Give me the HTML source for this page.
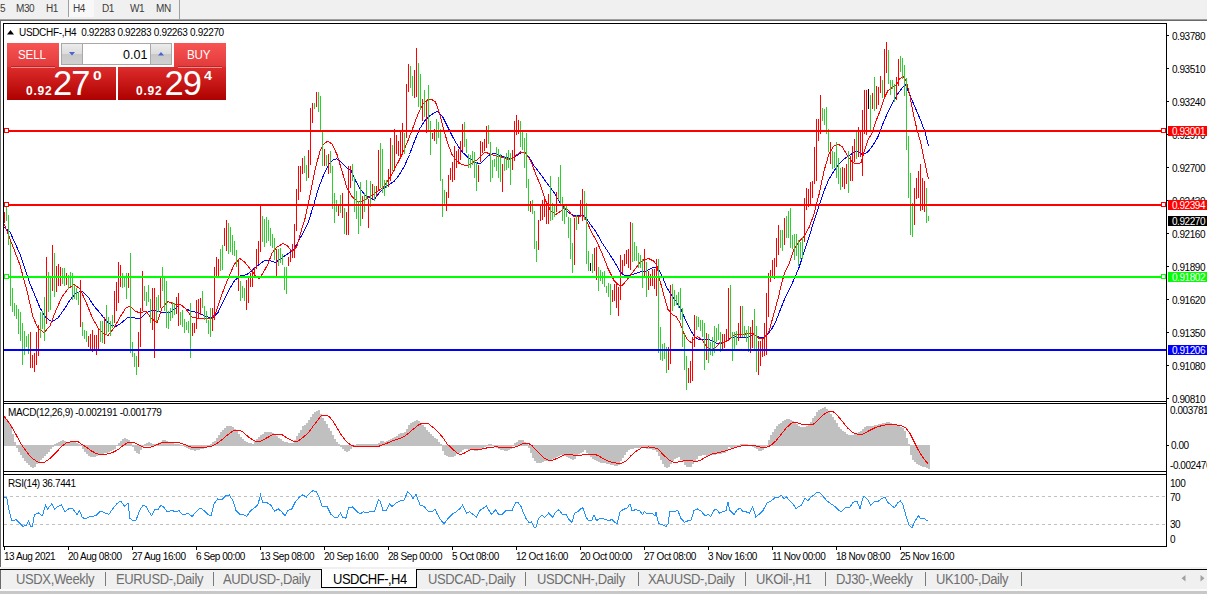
<!DOCTYPE html>
<html><head><meta charset="utf-8"><title>chart</title>
<style>
html,body{margin:0;padding:0;overflow:hidden;}
body{width:1207px;height:594px;position:relative;overflow:hidden;background:#fff;font-family:"Liberation Sans",sans-serif;}
.t,.tb,.pl,.tab{position:absolute;white-space:nowrap;font-size:10px;letter-spacing:-0.45px;line-height:13px;color:#000;}
.tb{color:#3c3c3c;}
.pl{left:1168px;width:39px;height:10px;line-height:10px;padding-left:4px;padding-top:1px;box-sizing:border-box;overflow:hidden}
.tab{font-size:13px;letter-spacing:-0.36px;line-height:18px;color:#6e6e6e;top:571px;transform:scaleY(1.13);transform-origin:0 13.2px}
.sep{position:absolute;top:572px;width:1px;height:14px;background:#7a7a7a}
.abs{position:absolute}
.sbt{color:#fff;font-size:12px;line-height:15px;letter-spacing:-0.2px}
.sm{color:#fff;font-size:12px;font-weight:bold;line-height:13px;letter-spacing:0.2px}
.big{color:#fff;font-size:34.5px;line-height:38px;letter-spacing:-1px}
</style></head><body>
<!-- top toolbar -->
<div class="abs" style="left:0;top:0;width:1207px;height:19px;background:#f0f0f0"></div>
<div class="abs" style="left:69px;top:0;width:25px;height:17px;background:#f8f8f8"></div>
<div class="abs" style="left:68px;top:0;width:1px;height:17px;background:#a0a0a0"></div>
<div class="abs" style="left:179px;top:0;width:1px;height:19px;background:#a0a0a0"></div>
<div class="abs" style="left:0;top:19px;width:1207px;height:1px;background:#a0a0a0"></div>
<div class="abs" style="left:0;top:20px;width:1207px;height:1px;background:#696969"></div>
<div class="abs" style="left:0;top:20px;width:1px;height:547px;background:#696969"></div>
<!-- bottom tab bar -->
<div class="abs" style="left:0;top:567px;width:1207px;height:2px;background:#f0f0f0"></div>
<div class="abs" style="left:0;top:569px;width:1207px;height:1px;background:#000"></div>
<div class="abs" style="left:0;top:570px;width:1207px;height:19px;background:#f0f0f0"></div>
<div class="abs" style="left:0;top:589px;width:1207px;height:2px;background:#fafafa"></div>
<div class="abs" style="left:0;top:591px;width:1207px;height:3px;background:#c8c8c8"></div>
<div class="abs" style="left:0;top:570px;width:1px;height:19px;background:#696969"></div>
<div class="abs" style="left:321px;top:569px;width:96px;height:19px;background:#fff;border:1px solid #000;border-top:none;box-sizing:border-box"></div>
<svg width="1207" height="594" viewBox="0 0 1207 594" style="position:absolute;left:0;top:0">
<g shape-rendering="crispEdges" fill="none" stroke="#000" stroke-width="1">
<path d="M3.5 23V547 M3 23.5H1167 M1166.5 23V547 M3 401.5H1167 M3 403.5H1167 M3 471.5H1167 M3 474.5H1167 M3 546.5H1167"/>
<path d="M1167 35.5h2M1167 68.5h2M1167 101.5h2M1167 134.5h2M1167 167.5h2M1167 200.5h2M1167 233.5h2M1167 266.5h2M1167 299.5h2M1167 332.5h2M1167 365.5h2M1167 398.5h2"/>
<path d="M4.5 547v3M68.5 547v3M132.5 547v3M196.5 547v3M260.5 547v3M324.5 547v3M388.5 547v3M452.5 547v3M516.5 547v3M580.5 547v3M644.5 547v3M708.5 547v3M772.5 547v3M836.5 547v3M900.5 547v3"/>
<path d="M1167 445.5h2"/>
</g>
<path d="M4 496.5H1166 M4 524.5H1166" stroke="#c0c0c0" stroke-width="1" stroke-dasharray="3 3" fill="none" shape-rendering="crispEdges"/>
<polyline points="4.0,227.4 10.0,232.0 20.0,254.0 30.0,283.7 40.0,307.8 46.0,317.8 52.0,321.9 58.0,317.8 64.0,309.6 70.0,300.0 76.0,293.0 82.0,291.0 88.0,296.7 94.0,306.0 100.0,313.0 106.0,320.7 112.0,325.6 116.0,326.3 122.0,322.6 128.0,317.0 134.0,317.8 140.0,318.9 146.0,313.0 152.0,310.0 158.0,311.5 164.0,313.0 170.0,312.6 176.0,307.8 180.0,304.0 186.0,309.0 192.0,311.5 198.0,312.4 204.0,315.5 210.0,317.9 214.0,317.0 218.0,312.4 222.4,303.0 228.5,291.0 234.5,280.6 240.6,276.0 246.7,274.5 251.0,271.5 255.8,267.0 261.8,262.4 266.0,260.0 271.0,261.0 275.5,262.4 280.0,259.4 284.5,256.0 289.0,253.0 293.6,250.0 298.0,242.0 303.5,232.0 308.5,221.8 313.6,205.0 318.6,188.0 323.7,174.7 328.7,164.6 333.8,159.5 337.0,158.9 342.0,163.0 347.0,168.0 350.6,169.6 355.7,181.0 360.7,189.8 365.8,195.6 370.8,198.0 374.0,200.0 379.0,193.0 384.0,188.0 389.0,184.8 394.4,181.0 399.4,174.7 404.5,166.0 409.5,154.5 414.6,141.0 419.6,129.0 424.7,120.8 429.7,115.8 434.8,112.4 438.0,111.4 443.0,117.4 448.0,127.5 453.0,137.6 458.0,146.0 463.0,152.8 468.5,157.8 470.0,159.0 475.0,162.0 480.0,164.0 485.0,159.0 490.0,154.5 495.0,153.0 500.0,155.6 505.0,157.0 510.0,159.0 515.5,156.6 520.5,152.9 524.0,152.0 529.0,157.0 534.0,165.7 539.0,172.0 544.0,179.0 549.0,185.9 554.0,192.6 559.0,201.0 564.0,207.7 569.0,212.8 574.0,216.0 579.4,215.0 584.5,216.0 589.5,223.0 596.0,232.0 602.0,242.7 608.0,251.8 614.0,261.0 620.0,271.5 624.8,276.0 629.4,275.5 634.0,274.0 640.0,272.0 646.0,271.0 650.6,268.5 655.0,267.0 659.0,270.0 662.7,277.6 667.0,288.0 671.8,295.8 676.4,301.8 681.0,309.4 685.5,320.0 690.0,329.0 694.5,336.7 699.0,339.7 703.6,339.0 708.0,339.0 712.7,341.0 717.0,343.6 721.8,344.0 726.4,341.0 731.0,338.0 735.5,336.7 740.0,337.6 744.5,338.0 749.0,336.7 753.6,334.5 758.0,336.7 762.7,338.0 767.0,335.0 771.8,329.0 776.4,320.0 781.0,307.9 785.5,297.0 790.0,288.0 793.7,280.0 798.7,268.5 803.8,253.0 808.8,238.0 813.9,221.0 819.0,206.0 824.0,191.0 829.0,179.0 834.0,171.0 839.0,164.0 844.0,159.0 849.0,155.8 854.0,152.0 857.6,151.7 862.7,154.7 867.7,152.0 872.8,145.7 877.8,137.0 882.9,123.8 888.0,112.0 893.0,101.9 898.0,93.5 903.0,86.7 905.5,85.0 909.8,95.0 914.9,107.0 920.0,118.7 925.0,132.0 928.4,145.6" stroke="#0000ff" stroke-width="1" fill="none" shape-rendering="crispEdges"/>

<polyline points="4.0,223.7 10.0,239.0 20.0,265.0 27.0,291.0 33.0,317.0 38.0,328.0 44.0,332.6 50.0,326.0 56.0,310.0 62.0,297.0 68.0,289.0 74.0,284.4 80.0,289.0 86.0,302.0 92.0,317.0 98.0,328.0 104.0,333.7 108.0,335.5 114.0,328.0 120.0,317.0 126.0,307.8 130.0,306.0 135.0,311.0 140.0,313.0 146.0,311.0 152.0,319.0 157.0,322.6 162.0,308.0 168.0,301.5 174.0,304.0 180.0,304.0 186.0,309.0 192.0,317.0 198.0,318.5 205.8,318.5 211.8,318.5 216.0,312.0 222.0,294.0 228.5,277.6 234.5,264.0 239.7,258.5 245.0,262.4 251.0,270.0 255.8,276.0 259.0,279.0 263.0,273.0 268.0,264.0 272.0,253.0 277.0,247.0 283.0,243.6 287.6,245.8 292.0,251.8 296.7,247.0 300.0,235.0 305.0,218.5 310.0,195.0 315.0,170.0 320.0,151.0 323.7,144.0 328.0,141.0 332.0,144.0 337.0,154.5 342.0,171.0 347.0,188.0 352.0,196.6 357.0,201.0 362.0,201.6 367.4,198.0 372.5,195.0 377.5,191.5 382.6,188.0 387.6,181.0 392.7,173.0 397.7,163.0 402.8,152.8 407.8,141.0 413.0,127.5 418.0,114.0 423.0,104.0 428.0,99.6 431.0,99.0 435.5,102.0 439.8,114.0 444.0,131.0 448.0,144.0 452.0,154.5 456.7,161.0 461.7,164.6 466.8,165.6 471.8,163.0 476.9,160.0 480.0,157.0 485.0,152.0 490.0,154.0 495.0,155.6 500.0,156.6 505.0,158.0 510.0,160.0 515.5,155.6 520.5,152.0 525.6,153.0 530.6,160.6 535.7,174.0 540.7,186.0 545.8,201.0 550.8,211.0 555.9,214.5 561.0,211.0 564.0,207.7 567.6,209.4 572.7,216.0 577.7,217.0 582.8,215.5 586.0,219.5 591.0,231.0 596.0,240.0 602.0,253.0 608.0,268.5 614.0,280.6 618.8,285.0 622.7,285.0 626.4,280.6 631.0,274.5 635.5,268.5 640.0,262.4 644.5,259.4 649.0,258.8 653.6,261.0 657.0,265.5 660.0,280.6 664.0,295.8 668.0,309.4 671.8,314.0 676.4,317.0 680.0,323.0 684.0,333.6 687.6,339.7 691.5,342.7 694.5,338.0 697.6,336.7 702.0,339.7 706.7,347.0 711.0,350.0 715.8,347.0 720.0,342.7 724.8,341.8 729.4,339.7 734.0,335.0 738.5,334.5 743.0,334.5 747.6,333.6 752.0,333.0 755.0,335.0 759.7,339.0 764.0,338.0 768.8,332.0 773.0,317.0 778.0,298.8 782.4,280.6 785.0,272.0 788.6,265.0 793.7,250.0 798.7,241.6 803.8,236.6 808.8,228.0 813.9,214.7 819.0,194.5 824.0,171.0 829.0,154.0 834.0,145.7 838.0,144.0 842.5,147.0 847.5,155.8 852.6,162.5 857.6,164.0 861.0,162.5 864.4,150.7 868.0,140.0 872.0,133.0 876.0,121.0 880.0,111.0 884.0,98.7 888.0,90.6 892.0,87.6 896.0,85.6 900.0,78.5 903.6,76.9 906.7,82.5 909.7,94.6 912.7,110.8 916.8,129.0 920.8,143.0 923.0,154.0 928.4,179.0" stroke="#ff0000" stroke-width="1" fill="none" shape-rendering="crispEdges"/>

<path d="M4.5 212V223M30.5 332V368M32.5 355V368M34.5 353V372M36.5 332V365M38.5 325V356M46.5 257V324M52.5 245V291M56.5 266V292M58.5 264V286M60.5 267V286M66.5 273V285M80.5 280V327M88.5 336V347M90.5 334V351M92.5 330V352M94.5 335V349M96.5 335V355M98.5 329V350M104.5 317V344M114.5 291V323M116.5 282V311M118.5 262V303M120.5 265V287M128.5 273V288M138.5 332V367M140.5 308V347M142.5 271V311M152.5 288V330M154.5 288V358M160.5 278V308M176.5 297V314M178.5 293V326M192.5 323V336M194.5 323V333M196.5 300V329M198.5 299V318M200.5 298V315M212.5 308V331M214.5 267V320M216.5 257V278M218.5 259V277M224.5 228V246M226.5 220V251M238.5 259V291M246.5 280V310M248.5 277V303M250.5 273V287M252.5 269V287M254.5 267V278M256.5 249V269M258.5 241V264M260.5 206V252M276.5 249V278M288.5 257V266M290.5 253V262M292.5 244V258M294.5 224V258M296.5 189V231M298.5 166V200M300.5 166V192M302.5 158V174M308.5 150V178M310.5 108V165M312.5 103V123M316.5 92V107M324.5 149V166M328.5 154V174M338.5 204V216M342.5 193V218M346.5 212V235M348.5 166V235M350.5 166V188M362.5 196V219M368.5 199V228M372.5 184V199M376.5 186V197M378.5 150V191M388.5 169V187M390.5 138V181M394.5 129V171M396.5 135V154M398.5 141V156M400.5 132V156M402.5 123V153M406.5 84V138M408.5 64V92M414.5 70V98M416.5 48V97M422.5 99V121M426.5 101V133M432.5 133V139M434.5 129V141M446.5 192V211M448.5 175V198M450.5 168V180M452.5 162V182M454.5 146V180M456.5 151V168M458.5 149V164M460.5 141V160M462.5 124V151M478.5 165V182M480.5 141V162M482.5 142V153M484.5 139V151M486.5 126V148M502.5 164V192M512.5 150V170M514.5 121V161M516.5 115V135M518.5 120V134M530.5 201V212M538.5 220V250M540.5 206V221M542.5 200V220M544.5 197V217M546.5 204V224M548.5 194V224M556.5 192V212M574.5 218V265M578.5 217V224M580.5 200V217M582.5 189V221M594.5 248V271M596.5 247V280M612.5 290V302M614.5 284V301M616.5 284V308M618.5 287V316M620.5 255V300M622.5 260V273M624.5 254V266M626.5 250V264M628.5 249V268M630.5 222V270M644.5 249V278M648.5 271V290M650.5 274V286M652.5 269V286M654.5 269V289M656.5 259V296M668.5 347V370M670.5 285V364M688.5 368V383M690.5 361V383M692.5 337V381M694.5 315V347M706.5 333V360M722.5 334V351M724.5 334V348M726.5 329V342M728.5 288V341M738.5 323V341M740.5 306V337M750.5 327V353M752.5 320V348M758.5 341V375M760.5 341V366M762.5 338V357M764.5 323V356M766.5 293V355M768.5 273V317M770.5 270V282M772.5 260V277M774.5 258V279M776.5 238V267M778.5 225V255M784.5 218V245M804.5 198V242M806.5 188V210M808.5 189V207M810.5 182V206M812.5 181V198M814.5 147V184M816.5 119V181M818.5 119V141M820.5 95V134M830.5 142V164M842.5 167V187M844.5 168V189M846.5 164V184M850.5 156V181M852.5 146V181M854.5 139V162M858.5 127V157M860.5 130V157M862.5 110V176M864.5 90V134M866.5 90V135M872.5 93V109M876.5 86V109M878.5 87V105M880.5 76V93M884.5 49V98M886.5 42V73M896.5 77V100M898.5 59V86M914.5 188V225M916.5 178V199M918.5 171V198M920.5 164V211M922.5 178V210M924.5 181V212" stroke="#ff0000" stroke-width="1" fill="none" shape-rendering="crispEdges"/>
<path d="M6.5 204V221M8.5 215V245M10.5 242V306M12.5 288V312M14.5 303V316M16.5 305V319M18.5 309V334M20.5 312V341M22.5 323V365M24.5 331V355M26.5 336V347M28.5 334V354M40.5 312V338M42.5 311V329M44.5 297V341M48.5 272V312M50.5 277V310M54.5 253V297M62.5 268V284M64.5 268V286M68.5 275V289M70.5 272V286M72.5 273V300M74.5 285V299M76.5 288V300M78.5 292V305M82.5 322V336M84.5 330V339M86.5 331V342M100.5 321V342M102.5 321V343M106.5 305V335M108.5 317V332M110.5 321V336M112.5 315V328M122.5 273V288M124.5 277V287M126.5 273V299M130.5 253V353M132.5 342V357M134.5 353V367M136.5 356V375M144.5 286V301M146.5 292V306M148.5 285V302M150.5 299V323M156.5 297V322M158.5 295V312M162.5 267V291M164.5 276V311M166.5 281V328M168.5 311V329M170.5 308V321M172.5 302V318M174.5 303V315M180.5 312V325M182.5 310V327M184.5 319V333M186.5 322V330M188.5 321V333M190.5 303V358M202.5 291V308M204.5 306V320M206.5 311V323M208.5 320V334M210.5 308V337M220.5 249V271M222.5 245V270M228.5 223V254M230.5 227V252M232.5 235V255M234.5 241V256M236.5 250V267M240.5 281V301M242.5 286V298M244.5 288V301M262.5 216V242M264.5 219V247M266.5 217V243M268.5 220V241M270.5 228V246M272.5 234V248M274.5 238V260M278.5 249V266M280.5 248V263M282.5 254V265M284.5 267V290M286.5 267V294M304.5 156V173M306.5 165V181M314.5 103V109M318.5 92V112M320.5 96V131M322.5 131V166M326.5 155V166M330.5 151V173M332.5 166V209M334.5 193V223M336.5 200V212M340.5 195V213M344.5 208V234M352.5 164V181M354.5 177V212M356.5 191V219M358.5 201V234M360.5 182V226M364.5 193V212M366.5 180V200M370.5 181V207M374.5 186V201M380.5 143V188M382.5 149V193M384.5 180V196M386.5 180V188M392.5 145V171M404.5 133V154M410.5 66V88M412.5 76V96M418.5 63V107M420.5 74V110M424.5 90V117M428.5 85V130M430.5 121V155M436.5 119V144M438.5 122V138M440.5 129V181M442.5 179V217M444.5 190V204M464.5 122V147M466.5 139V153M468.5 154V168M470.5 155V168M472.5 151V165M474.5 152V178M476.5 162V191M488.5 125V144M490.5 142V182M492.5 160V178M494.5 159V167M496.5 147V171M498.5 149V178M500.5 154V182M504.5 156V171M506.5 153V170M508.5 150V168M510.5 153V185M520.5 121V147M522.5 132V150M524.5 138V168M526.5 133V188M528.5 179V211M532.5 200V214M534.5 211V249M536.5 241V262M550.5 176V221M552.5 203V220M554.5 204V217M558.5 177V200M560.5 165V204M562.5 197V221M564.5 206V224M566.5 204V217M568.5 217V238M570.5 218V259M572.5 243V273M576.5 215V230M584.5 191V220M586.5 203V264M588.5 251V271M592.5 254V273M598.5 267V291M600.5 270V281M602.5 272V284M604.5 271V287M606.5 286V293M608.5 283V297M610.5 284V315M632.5 223V262M634.5 242V261M636.5 246V261M638.5 253V268M640.5 255V268M642.5 259V288M646.5 262V297M658.5 259V353M660.5 327V360M662.5 344V361M664.5 343V359M666.5 347V373M672.5 284V311M674.5 290V306M676.5 295V305M678.5 292V308M680.5 288V320M682.5 308V347M684.5 334V370M686.5 356V390M696.5 316V330M698.5 317V327M700.5 320V331M702.5 320V337M704.5 323V370M708.5 334V363M710.5 342V355M712.5 337V356M714.5 326V353M716.5 328V342M718.5 324V340M720.5 332V352M730.5 285V338M732.5 332V361M734.5 332V349M736.5 331V345M742.5 306V337M744.5 326V337M746.5 330V342M748.5 326V352M754.5 309V350M756.5 326V372M780.5 230V248M782.5 230V251M786.5 216V238M788.5 211V238M790.5 208V248M792.5 235V249M794.5 234V260M796.5 234V256M798.5 240V266M800.5 242V259M802.5 237V259M822.5 108V121M824.5 109V125M826.5 107V134M828.5 129V152M832.5 151V169M834.5 152V168M836.5 142V178M838.5 158V184M840.5 168V190M848.5 151V193M856.5 130V159M870.5 95V131M874.5 77V111M882.5 80V98M888.5 50V84M890.5 80V95M892.5 80V89M894.5 84V102M900.5 56V72M902.5 58V79M904.5 65V96M906.5 78V150M908.5 136V198M910.5 173V235M912.5 203V237M926.5 188V223M928.5 216V221" stroke="#32cd32" stroke-width="1" fill="none" shape-rendering="crispEdges"/>
<path d="M590.5 263V271M868.5 89V109" stroke="#000000" stroke-width="1" fill="none" shape-rendering="crispEdges"/>

<rect x="4" y="130" width="1162" height="2" fill="#ff0000" shape-rendering="crispEdges"/><rect x="4.5" y="128.5" width="4" height="4" fill="#fff" stroke="#ff0000" stroke-width="1" shape-rendering="crispEdges"/><rect x="1161.5" y="128.5" width="4" height="4" fill="#fff" stroke="#ff0000" stroke-width="1" shape-rendering="crispEdges"/>
<rect x="4" y="204" width="1162" height="2" fill="#ff0000" shape-rendering="crispEdges"/><rect x="4.5" y="202.5" width="4" height="4" fill="#fff" stroke="#ff0000" stroke-width="1" shape-rendering="crispEdges"/><rect x="1161.5" y="202.5" width="4" height="4" fill="#fff" stroke="#ff0000" stroke-width="1" shape-rendering="crispEdges"/>
<rect x="4" y="276" width="1162" height="2" fill="#00ff00" shape-rendering="crispEdges"/><rect x="4.5" y="274.5" width="4" height="4" fill="#fff" stroke="#00ff00" stroke-width="1" shape-rendering="crispEdges"/><rect x="1161.5" y="274.5" width="4" height="4" fill="#fff" stroke="#00ff00" stroke-width="1" shape-rendering="crispEdges"/>
<rect x="4" y="349" width="1162" height="2" fill="#0000ff" shape-rendering="crispEdges"/>
<path d="M4 416h2V446h-2zM6 419h2V446h-2zM8 422h2V446h-2zM10 425h2V446h-2zM12 434h2V446h-2zM14 442h2V446h-2zM16 445h2V448h-2zM18 445h2V452h-2zM20 445h2V455h-2zM22 445h2V458h-2zM24 445h2V461h-2zM26 445h2V463h-2zM28 445h2V465h-2zM30 445h2V467h-2zM32 445h2V468h-2zM34 445h2V467h-2zM36 445h2V464h-2zM38 445h2V462h-2zM40 445h2V460h-2zM42 445h2V458h-2zM44 445h2V456h-2zM46 445h2V454h-2zM48 445h2V452h-2zM50 445h2V449h-2zM52 445h2V447h-2zM54 444h2V446h-2zM56 443h2V446h-2zM58 442h2V446h-2zM60 441h2V446h-2zM62 440h2V446h-2zM64 441h2V446h-2zM66 442h2V446h-2zM68 442h2V446h-2zM70 441h2V446h-2zM72 441h2V446h-2zM74 442h2V446h-2zM76 443h2V446h-2zM78 444h2V446h-2zM80 445h2v1h-2zM82 445h2V449h-2zM84 445h2V452h-2zM86 445h2V454h-2zM88 445h2V456h-2zM90 445h2V457h-2zM92 445h2V457h-2zM94 445h2V457h-2zM96 445h2V456h-2zM98 445h2V455h-2zM100 445h2V454h-2zM102 445h2V454h-2zM104 445h2V453h-2zM106 445h2V453h-2zM108 445h2V452h-2zM110 445h2V451h-2zM112 445h2V450h-2zM114 445h2V449h-2zM116 445h2v1h-2zM118 443h2V446h-2zM120 441h2V446h-2zM122 439h2V446h-2zM124 438h2V446h-2zM126 439h2V446h-2zM128 440h2V446h-2zM130 443h2V446h-2zM132 445h2V447h-2zM134 445h2V451h-2zM136 445h2V453h-2zM138 445h2V454h-2zM140 445h2V450h-2zM142 445h2V447h-2zM144 444h2V446h-2zM146 443h2V446h-2zM148 442h2V446h-2zM150 443h2V446h-2zM152 444h2V446h-2zM154 444h2V446h-2zM156 444h2V446h-2zM158 443h2V446h-2zM160 442h2V446h-2zM162 440h2V446h-2zM164 440h2V446h-2zM166 441h2V446h-2zM168 442h2V446h-2zM170 443h2V446h-2zM172 443h2V446h-2zM174 444h2V446h-2zM176 444h2V446h-2zM178 444h2V446h-2zM180 445h2v1h-2zM182 445h2v1h-2zM184 445h2V447h-2zM186 445h2V448h-2zM188 445h2V449h-2zM190 445h2V450h-2zM192 445h2V450h-2zM194 445h2V451h-2zM196 445h2V450h-2zM198 445h2V450h-2zM200 445h2V449h-2zM202 445h2V449h-2zM204 445h2V448h-2zM206 445h2V447h-2zM208 445h2v1h-2zM210 444h2V446h-2zM212 442h2V446h-2zM214 441h2V446h-2zM216 438h2V446h-2zM218 435h2V446h-2zM220 432h2V446h-2zM222 430h2V446h-2zM224 428h2V446h-2zM226 426h2V446h-2zM228 426h2V446h-2zM230 426h2V446h-2zM232 427h2V446h-2zM234 429h2V446h-2zM236 431h2V446h-2zM238 434h2V446h-2zM240 437h2V446h-2zM242 439h2V446h-2zM244 441h2V446h-2zM246 442h2V446h-2zM248 443h2V446h-2zM250 443h2V446h-2zM252 444h2V446h-2zM254 441h2V446h-2zM256 439h2V446h-2zM258 437h2V446h-2zM260 435h2V446h-2zM262 434h2V446h-2zM264 432h2V446h-2zM266 432h2V446h-2zM268 432h2V446h-2zM270 432h2V446h-2zM272 433h2V446h-2zM274 435h2V446h-2zM276 436h2V446h-2zM278 438h2V446h-2zM280 439h2V446h-2zM282 441h2V446h-2zM284 442h2V446h-2zM286 442h2V446h-2zM288 443h2V446h-2zM290 443h2V446h-2zM292 443h2V446h-2zM294 440h2V446h-2zM296 436h2V446h-2zM298 433h2V446h-2zM300 430h2V446h-2zM302 426h2V446h-2zM304 425h2V446h-2zM306 423h2V446h-2zM308 420h2V446h-2zM310 417h2V446h-2zM312 414h2V446h-2zM314 412h2V446h-2zM316 411h2V446h-2zM318 410h2V446h-2zM320 414h2V446h-2zM322 418h2V446h-2zM324 421h2V446h-2zM326 424h2V446h-2zM328 428h2V446h-2zM330 431h2V446h-2zM332 435h2V446h-2zM334 439h2V446h-2zM336 442h2V446h-2zM338 444h2V446h-2zM340 445h2V447h-2zM342 445h2V449h-2zM344 445h2V451h-2zM346 445h2V452h-2zM348 445h2V451h-2zM350 445h2V449h-2zM352 445h2V447h-2zM354 445h2v1h-2zM356 444h2V446h-2zM358 444h2V446h-2zM360 444h2V446h-2zM362 444h2V446h-2zM364 444h2V446h-2zM366 444h2V446h-2zM368 444h2V446h-2zM370 444h2V446h-2zM372 444h2V446h-2zM374 444h2V446h-2zM376 444h2V446h-2zM378 443h2V446h-2zM380 441h2V446h-2zM382 441h2V446h-2zM384 442h2V446h-2zM386 441h2V446h-2zM388 440h2V446h-2zM390 439h2V446h-2zM392 438h2V446h-2zM394 437h2V446h-2zM396 436h2V446h-2zM398 434h2V446h-2zM400 433h2V446h-2zM402 433h2V446h-2zM404 432h2V446h-2zM406 429h2V446h-2zM408 425h2V446h-2zM410 423h2V446h-2zM412 422h2V446h-2zM414 421h2V446h-2zM416 420h2V446h-2zM418 421h2V446h-2zM420 423h2V446h-2zM422 425h2V446h-2zM424 427h2V446h-2zM426 430h2V446h-2zM428 432h2V446h-2zM430 434h2V446h-2zM432 436h2V446h-2zM434 438h2V446h-2zM436 439h2V446h-2zM438 442h2V446h-2zM440 444h2V446h-2zM442 445h2V451h-2zM444 445h2V455h-2zM446 445h2V456h-2zM448 445h2V457h-2zM450 445h2V457h-2zM452 445h2V457h-2zM454 445h2V456h-2zM456 445h2V454h-2zM458 445h2V453h-2zM460 445h2V452h-2zM462 445h2V450h-2zM464 445h2V449h-2zM466 445h2V449h-2zM468 445h2V450h-2zM470 445h2V450h-2zM472 445h2V450h-2zM474 445h2V451h-2zM476 445h2V451h-2zM478 445h2V450h-2zM480 445h2V449h-2zM482 445h2V448h-2zM484 445h2V447h-2zM486 445h2v1h-2zM488 444h2V446h-2zM490 444h2V446h-2zM492 445h2v1h-2zM494 445h2V447h-2zM496 445h2V448h-2zM498 445h2V449h-2zM500 445h2V450h-2zM502 445h2V450h-2zM504 445h2V451h-2zM506 445h2V451h-2zM508 445h2V450h-2zM510 445h2V449h-2zM512 445h2v1h-2zM514 443h2V446h-2zM516 442h2V446h-2zM518 440h2V446h-2zM520 440h2V446h-2zM522 440h2V446h-2zM524 442h2V446h-2zM526 444h2V446h-2zM528 445h2V448h-2zM530 445h2V453h-2zM532 445h2V458h-2zM534 445h2V461h-2zM536 445h2V463h-2zM538 445h2V463h-2zM540 445h2V463h-2zM542 445h2V462h-2zM544 445h2V461h-2zM546 445h2V461h-2zM548 445h2V460h-2zM550 445h2V460h-2zM552 445h2V459h-2zM554 445h2V458h-2zM556 445h2V457h-2zM558 445h2V456h-2zM560 445h2V455h-2zM562 445h2V455h-2zM564 445h2V456h-2zM566 445h2V457h-2zM568 445h2V458h-2zM570 445h2V459h-2zM572 445h2V460h-2zM574 445h2V459h-2zM576 445h2V456h-2zM578 445h2V454h-2zM580 445h2V453h-2zM582 445h2V452h-2zM584 445h2V450h-2zM586 445h2V453h-2zM588 445h2V455h-2zM590 445h2V457h-2zM592 445h2V459h-2zM594 445h2V460h-2zM596 445h2V461h-2zM598 445h2V462h-2zM600 445h2V463h-2zM602 445h2V463h-2zM604 445h2V463h-2zM606 445h2V464h-2zM608 445h2V464h-2zM610 445h2V465h-2zM612 445h2V465h-2zM614 445h2V466h-2zM616 445h2V466h-2zM618 445h2V465h-2zM620 445h2V461h-2zM622 445h2V458h-2zM624 445h2V455h-2zM626 445h2V452h-2zM628 445h2V450h-2zM630 445h2V449h-2zM632 445h2V449h-2zM634 445h2V448h-2zM636 445h2V448h-2zM638 445h2V448h-2zM640 445h2V448h-2zM642 445h2V448h-2zM644 445h2V448h-2zM646 445h2V449h-2zM648 445h2V449h-2zM650 445h2V449h-2zM652 445h2V450h-2zM654 445h2V450h-2zM656 445h2V452h-2zM658 445h2V456h-2zM660 445h2V460h-2zM662 445h2V464h-2zM664 445h2V467h-2zM666 445h2V468h-2zM668 445h2V467h-2zM670 445h2V464h-2zM672 445h2V461h-2zM674 445h2V459h-2zM676 445h2V458h-2zM678 445h2V457h-2zM680 445h2V460h-2zM682 445h2V462h-2zM684 445h2V465h-2zM686 445h2V467h-2zM688 445h2V467h-2zM690 445h2V467h-2zM692 445h2V464h-2zM694 445h2V461h-2zM696 445h2V459h-2zM698 445h2V456h-2zM700 445h2V456h-2zM702 445h2V455h-2zM704 445h2V455h-2zM706 445h2V456h-2zM708 445h2V456h-2zM710 445h2V455h-2zM712 445h2V455h-2zM714 445h2V455h-2zM716 445h2V454h-2zM718 445h2V454h-2zM720 445h2V454h-2zM722 445h2V453h-2zM724 445h2V453h-2zM726 445h2V450h-2zM728 445h2V447h-2zM730 445h2V448h-2zM732 445h2V448h-2zM734 445h2V447h-2zM736 445h2V447h-2zM738 445h2v1h-2zM740 444h2V446h-2zM742 444h2V446h-2zM744 444h2V446h-2zM746 444h2V446h-2zM748 445h2v1h-2zM750 445h2v1h-2zM752 445h2V447h-2zM754 445h2V448h-2zM756 445h2V449h-2zM758 445h2V451h-2zM760 445h2V451h-2zM762 445h2V450h-2zM764 445h2V448h-2zM766 445h2v1h-2zM768 440h2V446h-2zM770 435h2V446h-2zM772 432h2V446h-2zM774 429h2V446h-2zM776 426h2V446h-2zM778 424h2V446h-2zM780 423h2V446h-2zM782 421h2V446h-2zM784 420h2V446h-2zM786 419h2V446h-2zM788 419h2V446h-2zM790 420h2V446h-2zM792 421h2V446h-2zM794 422h2V446h-2zM796 424h2V446h-2zM798 426h2V446h-2zM800 427h2V446h-2zM802 427h2V446h-2zM804 427h2V446h-2zM806 426h2V446h-2zM808 424h2V446h-2zM810 422h2V446h-2zM812 418h2V446h-2zM814 416h2V446h-2zM816 412h2V446h-2zM818 410h2V446h-2zM820 409h2V446h-2zM822 408h2V446h-2zM824 407h2V446h-2zM826 409h2V446h-2zM828 411h2V446h-2zM830 414h2V446h-2zM832 417h2V446h-2zM834 420h2V446h-2zM836 423h2V446h-2zM838 427h2V446h-2zM840 429h2V446h-2zM842 431h2V446h-2zM844 432h2V446h-2zM846 434h2V446h-2zM848 435h2V446h-2zM850 435h2V446h-2zM852 435h2V446h-2zM854 434h2V446h-2zM856 433h2V446h-2zM858 432h2V446h-2zM860 431h2V446h-2zM862 429h2V446h-2zM864 427h2V446h-2zM866 426h2V446h-2zM868 426h2V446h-2zM870 426h2V446h-2zM872 426h2V446h-2zM874 425h2V446h-2zM876 425h2V446h-2zM878 424h2V446h-2zM880 424h2V446h-2zM882 423h2V446h-2zM884 423h2V446h-2zM886 422h2V446h-2zM888 422h2V446h-2zM890 423h2V446h-2zM892 424h2V446h-2zM894 424h2V446h-2zM896 425h2V446h-2zM898 426h2V446h-2zM900 427h2V446h-2zM902 428h2V446h-2zM904 431h2V446h-2zM906 438h2V446h-2zM908 444h2V446h-2zM910 445h2V455h-2zM912 445h2V460h-2zM914 445h2V462h-2zM916 445h2V464h-2zM918 445h2V465h-2zM920 445h2V466h-2zM922 445h2V467h-2zM924 445h2V467h-2zM926 445h2V468h-2zM928 445h2V469h-2z" fill="#c0c0c0" shape-rendering="crispEdges"/>

<polyline points="4.0,416.0 10.6,425.0 16.0,434.5 21.0,443.8 26.5,451.7 31.8,458.0 37.0,461.5 41.0,463.0 45.0,462.0 50.4,458.0 55.7,453.0 61.0,447.0 66.0,443.0 71.6,441.6 77.0,441.0 81.0,443.8 86.0,447.0 91.5,451.0 96.8,453.8 102.0,455.0 107.0,454.0 112.7,452.5 118.0,449.6 123.0,445.6 128.6,442.0 132.6,442.0 138.0,444.6 143.0,447.0 148.5,447.7 154.0,446.0 159.0,443.8 164.5,442.0 172.0,442.0 180.0,443.0 185.7,445.0 191.0,447.0 197.6,448.0 204.0,447.7 212.0,446.0 217.5,443.0 222.8,439.0 228.0,434.5 233.0,431.0 238.7,430.0 242.7,431.8 248.0,436.6 253.0,440.0 257.0,442.0 261.0,441.0 266.6,438.0 272.0,435.0 277.0,434.0 282.5,435.0 287.8,438.5 293.0,441.0 298.0,441.0 303.7,437.0 309.0,431.8 314.0,425.0 318.0,420.0 321.0,416.0 325.0,415.0 329.0,416.4 333.0,421.0 337.0,427.8 341.0,434.5 345.0,439.8 349.0,443.8 353.0,445.9 358.0,447.0 365.0,446.4 371.6,446.6 377.0,447.0 382.0,445.0 387.5,443.0 392.8,440.6 398.0,439.0 403.4,437.0 408.8,433.0 414.0,428.6 419.0,424.7 423.0,423.0 428.6,423.9 432.6,427.0 438.0,431.8 443.0,437.7 447.0,443.8 452.5,449.0 456.5,452.5 460.5,454.9 464.5,453.0 469.8,450.0 475.0,449.6 481.7,449.0 488.0,447.7 496.0,446.7 504.0,447.7 512.0,448.0 517.5,446.4 522.8,443.8 528.0,443.0 532.0,445.6 536.0,450.0 540.0,454.0 544.0,457.8 549.0,460.5 553.0,460.0 558.6,457.8 564.0,455.0 569.0,454.0 575.9,455.7 582.5,455.0 589.0,454.0 594.4,454.0 599.7,456.5 605.0,459.7 610.0,461.8 615.6,463.0 620.6,463.7 626.0,461.0 631.0,455.7 636.5,451.0 641.8,447.7 648.5,447.0 653.8,447.7 657.7,449.0 661.7,453.0 665.7,457.0 669.7,460.5 675.0,462.9 680.0,461.5 685.6,460.5 691.0,460.5 696.0,462.0 701.5,459.7 706.8,456.5 712.0,454.0 717.4,453.0 722.7,451.7 728.0,449.9 734.7,447.7 741.0,445.9 748.0,445.6 754.6,445.6 759.9,447.0 765.0,447.7 770.5,445.6 775.8,441.0 781.0,434.5 786.4,427.8 791.7,423.0 797.0,422.5 802.0,424.4 807.6,425.0 813.0,424.7 818.0,419.9 823.5,414.6 828.8,411.4 832.8,411.4 836.8,414.6 842.0,421.0 847.4,427.8 852.7,432.6 858.0,434.5 863.0,434.0 868.6,431.0 875.0,427.8 882.0,425.5 888.5,424.4 895.0,424.7 901.8,426.0 905.8,427.8 909.7,433.0 913.7,441.0 917.7,449.0 921.7,455.7 925.6,461.0 928.0,463.7" stroke="#ff0000" stroke-width="1" fill="none" shape-rendering="crispEdges"/>

<polyline points="4.0,497.0 6.6,497.0 9.3,511.8 12.0,521.0 16.0,519.7 20.0,523.7 23.0,526.4 26.5,525.0 28.6,521.0 30.5,526.4 32.4,526.4 34.5,514.4 38.5,513.0 42.4,515.8 45.6,505.0 47.7,509.0 51.7,503.8 54.4,509.0 58.0,506.5 61.5,505.0 65.0,511.8 69.0,508.6 73.0,509.0 77.0,514.4 79.6,510.5 82.0,517.0 85.0,519.0 90.0,516.6 95.5,515.8 100.8,511.0 104.8,513.0 108.8,514.4 112.7,509.0 116.7,503.8 120.7,501.0 124.7,506.5 128.0,503.0 130.0,518.4 132.6,520.5 135.8,521.0 139.0,511.8 143.0,505.0 146.0,506.5 149.0,511.8 151.7,515.8 155.0,509.0 158.6,509.0 161.0,505.0 164.5,507.8 167.0,512.0 172.0,510.5 176.0,511.8 179.0,510.5 181.7,514.0 185.7,514.4 188.0,513.0 192.0,516.6 196.0,511.8 200.0,507.8 204.0,510.5 208.0,514.4 211.0,515.8 214.0,503.8 217.5,499.0 221.5,499.9 225.5,495.9 229.4,495.0 233.0,501.0 236.0,510.5 240.0,514.4 244.0,515.0 246.7,516.6 250.7,510.5 254.6,507.8 257.8,505.0 260.5,495.0 262.6,502.5 266.6,502.5 270.6,505.0 274.5,511.0 278.5,509.0 281.7,511.8 285.0,515.8 287.8,510.5 291.8,509.0 295.8,501.0 299.7,497.0 302.4,495.0 306.4,497.0 310.0,492.7 313.0,490.6 316.6,492.0 319.0,497.0 322.0,506.0 327.0,506.5 331.0,514.4 334.0,517.0 337.9,517.0 340.5,513.0 342.4,517.0 345.8,518.4 348.5,507.8 352.4,507.0 356.4,511.0 360.0,514.0 363.0,511.8 367.0,513.0 371.0,511.0 374.5,511.8 378.4,499.9 380.0,501.0 383.0,510.5 386.4,510.5 389.6,503.8 392.0,506.5 396.0,503.0 400.0,501.0 404.0,499.9 407.6,492.0 410.8,494.5 413.0,498.5 416.0,494.5 420.0,505.0 424.0,506.5 428.0,511.0 432.0,511.8 435.0,509.0 436.8,513.0 440.5,519.7 444.0,523.7 448.0,518.4 452.0,514.4 456.0,511.8 460.0,508.6 462.5,505.0 466.5,513.0 469.7,511.8 473.0,514.4 476.6,517.0 479.8,510.5 483.7,507.8 486.4,506.0 489.0,510.5 491.7,514.4 495.7,509.7 498.9,515.0 502.0,514.4 505.8,510.5 509.0,511.0 512.0,510.5 515.6,502.5 518.0,502.5 521.0,506.5 523.5,513.0 526.0,518.4 528.8,522.4 531.5,521.9 534.0,527.0 536.0,527.0 538.6,518.4 542.0,515.0 544.7,517.6 548.7,513.0 552.7,517.0 555.0,513.0 558.8,509.7 562.0,514.0 566.0,514.4 569.0,519.7 572.0,522.4 574.7,513.0 577.9,511.8 580.5,509.0 583.0,507.8 585.8,517.0 588.5,520.5 591.7,520.5 594.0,515.0 596.5,520.5 600.5,518.4 604.0,519.0 608.0,520.5 612.0,519.7 615.0,522.4 617.0,523.7 620.0,511.8 623.0,509.7 627.4,507.8 630.0,503.8 632.0,510.5 636.0,509.7 640.0,511.0 642.5,514.4 644.4,511.8 647.9,514.0 651.8,513.0 655.0,515.8 656.0,511.8 658.5,523.7 662.0,524.5 666.0,526.4 668.0,523.7 670.0,511.0 674.0,511.8 677.8,510.5 681.0,518.4 684.5,522.4 687.6,521.0 691.0,520.0 694.0,510.5 697.5,509.0 701.0,511.0 705.0,515.8 708.0,514.4 710.7,516.6 714.0,510.5 716.0,509.0 719.5,513.0 722.0,512.0 726.0,510.5 728.0,502.5 730.0,510.5 734.0,514.4 736.7,510.5 740.0,507.8 742.5,511.0 746.0,511.8 749.4,513.0 752.6,506.5 755.8,517.0 759.0,514.4 763.0,510.5 767.0,503.0 771.0,501.0 775.0,497.7 779.0,497.0 781.0,495.0 784.0,498.5 786.6,497.0 789.8,501.0 793.0,503.8 796.0,508.6 799.0,506.5 801.7,505.0 805.0,497.7 807.8,501.0 811.0,497.0 814.0,495.0 816.8,492.0 820.0,493.0 823.7,497.0 827.0,501.0 831.0,503.8 835.0,506.5 838.0,509.7 841.5,511.8 845.5,507.8 849.4,507.8 853.0,502.5 857.0,501.0 860.0,509.0 862.7,498.5 864.0,496.0 868.0,499.9 870.7,505.0 874.6,501.7 878.6,501.0 882.0,498.5 885.0,497.0 888.0,502.5 891.0,505.0 894.5,507.8 898.0,502.5 900.6,501.0 903.0,505.0 906.0,515.8 909.0,525.0 912.0,527.7 915.0,521.0 918.4,515.8 921.0,519.0 924.0,518.4 927.7,521.0" stroke="#1e90ff" stroke-width="1" fill="none" shape-rendering="crispEdges"/>

<path d="M7 34.5L10.5 30L14 34.5z" fill="#000"/>
</svg>
<div class="t" style="left:1172px;top:29.5px;">0.93780</div><div class="t" style="left:1172px;top:62.5px;">0.93510</div><div class="t" style="left:1172px;top:95.5px;">0.93240</div><div class="t" style="left:1172px;top:128.5px;">0.92970</div><div class="t" style="left:1172px;top:161.5px;">0.92700</div><div class="t" style="left:1172px;top:194.5px;">0.92430</div><div class="t" style="left:1172px;top:227.5px;">0.92160</div><div class="t" style="left:1172px;top:260.5px;">0.91890</div><div class="t" style="left:1172px;top:293.5px;">0.91620</div><div class="t" style="left:1172px;top:326.5px;">0.91350</div><div class="t" style="left:1172px;top:359.5px;">0.91080</div><div class="t" style="left:1172px;top:392.5px;">0.90810</div><div class="pl" style="top:126px;background:#ff0000;color:#fff">0.93001</div><div class="pl" style="top:200px;background:#ff0000;color:#fff">0.92394</div><div class="pl" style="top:216px;background:#000;color:#fff">0.92270</div><div class="pl" style="top:272px;background:#00ff00;color:#fff">0.91802</div><div class="pl" style="top:345px;background:#0000ff;color:#fff">0.91206</div><div class="t" style="left:1170px;top:404px;">0.003781</div><div class="t" style="left:1171px;top:439px;">0.00</div><div class="t" style="left:1170px;top:459px;">-0.002476</div><div class="t" style="left:1170px;top:477px;">100</div><div class="t" style="left:1170px;top:491px;">70</div><div class="t" style="left:1170px;top:518px;">30</div><div class="t" style="left:1170px;top:533px;">0</div><div class="t" style="left:19px;top:26px;letter-spacing:-0.33px">USDCHF-,H4&nbsp; 0.92283 0.92283 0.92263 0.92270</div><div class="t" style="left:8px;top:406px;letter-spacing:-0.35px">MACD(12,26,9) -0.002191 -0.001779</div><div class="t" style="left:8px;top:477px;letter-spacing:-0.38px">RSI(14) 36.7441</div><div class="t" style="left:4px;top:549.5px;">13 Aug 2021</div><div class="t" style="left:68px;top:549.5px;">20 Aug 08:00</div><div class="t" style="left:132px;top:549.5px;">27 Aug 16:00</div><div class="t" style="left:196px;top:549.5px;">6 Sep 00:00</div><div class="t" style="left:260px;top:549.5px;">13 Sep 08:00</div><div class="t" style="left:324px;top:549.5px;">20 Sep 16:00</div><div class="t" style="left:388px;top:549.5px;">28 Sep 00:00</div><div class="t" style="left:452px;top:549.5px;">5 Oct 08:00</div><div class="t" style="left:516px;top:549.5px;">12 Oct 16:00</div><div class="t" style="left:580px;top:549.5px;">20 Oct 00:00</div><div class="t" style="left:644px;top:549.5px;">27 Oct 08:00</div><div class="t" style="left:708px;top:549.5px;">3 Nov 16:00</div><div class="t" style="left:772px;top:549.5px;">11 Nov 00:00</div><div class="t" style="left:836px;top:549.5px;">18 Nov 08:00</div><div class="t" style="left:900px;top:549.5px;">25 Nov 16:00</div><div class="tb" style="left:0px;top:1.5px;">5</div><div class="tb" style="left:16px;top:1.5px;">M30</div><div class="tb" style="left:46px;top:1.5px;">H1</div><div class="tb" style="left:73px;top:1.5px;">H4</div><div class="tb" style="left:102px;top:1.5px;">D1</div><div class="tb" style="left:130px;top:1.5px;">W1</div><div class="tb" style="left:156px;top:1.5px;">MN</div>
<div class="tab" style="left:16px;">USDX,Weekly</div><div class="tab" style="left:116px;">EURUSD-,Daily</div><div class="tab" style="left:223px;">AUDUSD-,Daily</div><div class="tab" style="left:333px;color:#000;letter-spacing:-0.5px;">USDCHF-,H4</div><div class="tab" style="left:428px;">USDCAD-,Daily</div><div class="tab" style="left:537px;">USDCNH-,Daily</div><div class="tab" style="left:648px;">XAUUSD-,Daily</div><div class="tab" style="left:756px;">UKOil-,H1</div><div class="tab" style="left:836px;">DJ30-,Weekly</div><div class="tab" style="left:936px;">UK100-,Daily</div><div class="sep" style="left:105px"></div><div class="sep" style="left:213px"></div><div class="sep" style="left:525px"></div><div class="sep" style="left:638px"></div><div class="sep" style="left:745px"></div><div class="sep" style="left:825px"></div><div class="sep" style="left:925px"></div><div class="sep" style="left:1021px"></div><svg class="abs" style="left:1178px;top:572px" width="29" height="12"><path d="M7.5 3v6.5L3.5 6.2z M22.5 3v6.5L26.5 6.2z" fill="#a0a0a0"/></svg>

<div class="abs" style="left:7px;top:43px;width:52px;height:24px;background:linear-gradient(#f85454,#e23a3a)"></div>
<div class="abs" style="left:174px;top:43px;width:52px;height:24px;background:linear-gradient(#f85454,#e23a3a)"></div>
<div class="abs" style="left:7px;top:67px;width:109px;height:33px;background:linear-gradient(#dc2c2c,#c41414 55%,#ae0000)"></div>
<div class="abs" style="left:118px;top:67px;width:108px;height:33px;background:linear-gradient(#dc2c2c,#c41414 55%,#ae0000)"></div>
<div class="abs" style="left:11px;top:66px;width:44px;height:1px;background:#c02424"></div>
<div class="abs" style="left:11px;top:67px;width:44px;height:1px;background:#f08c8c"></div>
<div class="abs" style="left:178px;top:66px;width:44px;height:1px;background:#c02424"></div>
<div class="abs" style="left:178px;top:67px;width:44px;height:1px;background:#f08c8c"></div>
<div class="abs" style="left:61px;top:43px;width:111px;height:22px;border:1px solid #a8a8a8;box-sizing:border-box;background:#fff"></div>
<div class="abs" style="left:62px;top:44px;width:20px;height:20px;background:linear-gradient(#ececec,#dcdcdc 50%,#c8c8c8 51%,#d0d0d0);border-right:1px solid #a8a8a8"></div>
<div class="abs" style="left:150px;top:44px;width:21px;height:20px;background:linear-gradient(#ececec,#dcdcdc 50%,#c8c8c8 51%,#d0d0d0);border-left:1px solid #a8a8a8;box-sizing:border-box"></div>
<svg class="abs" style="left:62px;top:44px" width="110" height="20"><path d="M7 8h6l-3 3.5z M96 11.5h6l-3-3.5z" fill="#4a64c8"/></svg>
<div class="abs sbt" style="left:18px;top:48px;transform:scaleX(0.97);transform-origin:0 0">SELL</div>
<div class="abs sbt" style="left:186.5px;top:48px;transform:scaleX(0.97);transform-origin:0 0">BUY</div>
<div class="abs" style="left:123px;top:48px;font-size:12.5px;line-height:15px;letter-spacing:0px">0.01</div>
<div class="abs sm" style="left:26px;top:85px;letter-spacing:0.8px">0.92</div>
<div class="abs sm" style="left:136px;top:85px;letter-spacing:0.8px">0.92</div>
<div class="abs big" style="left:53px;top:64px">27</div>
<div class="abs big" style="left:164.5px;top:64px">29</div>
<div class="abs sm" style="left:93px;top:69.5px;transform:scaleX(1.3);transform-origin:0 0">0</div>
<div class="abs sm" style="left:204px;top:69.5px;transform:scaleX(1.2);transform-origin:0 0">4</div>

</body></html>
